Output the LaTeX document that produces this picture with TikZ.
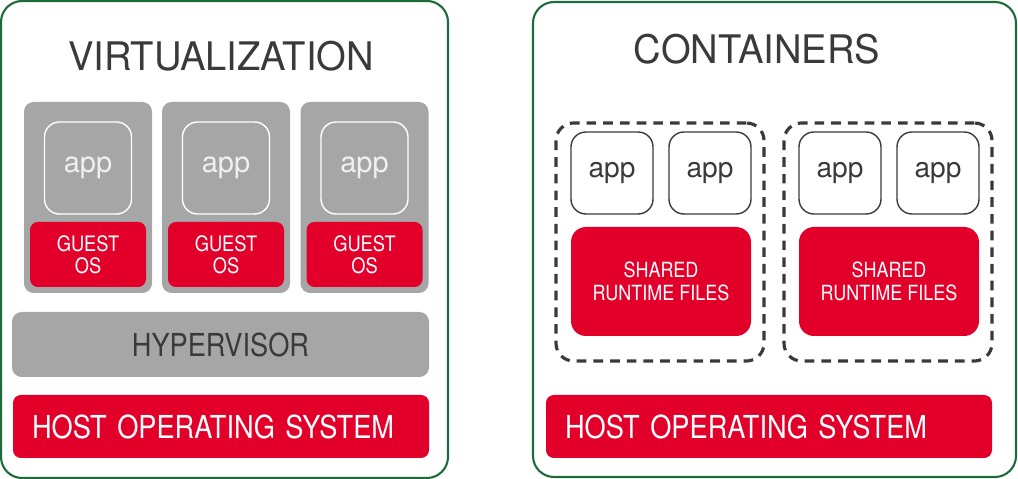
\documentclass[tikz,border=0pt]{standalone}
\usepackage{fontspec}
\setmainfont{TeX Gyre Heros}
\newfontfamily\condfont[FakeStretch=0.86]{TeX Gyre Heros}
\newfontfamily\headfont[FakeStretch=0.97]{TeX Gyre Heros}
\definecolor{hostred}{HTML}{E2002B}
\definecolor{boxgray}{HTML}{A6A6A6}
\definecolor{darktext}{HTML}{3A3A3A}
\definecolor{framegreen}{HTML}{1E6B3A}

\begin{document}
\begin{tikzpicture}[x=0.02cm, y=-0.02cm,
				px/.style 2 args = {minimum width=#1*0.02cm, minimum height=#2*0.02cm, inner sep=0pt, outer sep=0pt},
				frame/.style = {draw=framegreen, line width=1.2pt, rounded corners=12pt},
				title/.style = {text=darktext, font=\headfont\fontsize{22.4}{24}\selectfont},
				vmbox/.style = {fill=boxgray, rounded corners=5.5pt},
				vmapp/.style = {draw=white, line width=0.8pt, rounded corners=8.5pt, text=white!94!black, font=\fontsize{16.5}{18}\selectfont},
				guestbox/.style = {fill=hostred, rounded corners=4.5pt, text=white, align=center, font=\condfont\fontsize{12.1}{12.5}\selectfont},
				hyperbox/.style = {fill=boxgray, rounded corners=5.5pt, text=darktext, font=\condfont\fontsize{18}{20}\selectfont},
				hostbox/.style = {fill=hostred, rounded corners=4.5pt, text=white, align=left, font=\condfont\fontsize{18}{19}\selectfont},
				ctrbox/.style = {draw=darktext, line width=1.8pt, dash pattern=on 5.5pt off 4pt, rounded corners=10pt},
				ctrapp/.style = {draw=darktext, line width=0.8pt, rounded corners=8.5pt, text=darktext, font=\fontsize{16}{18}\selectfont},
				sharedbox/.style = {fill=hostred, rounded corners=8.5pt, text=white, align=center, font=\condfont\fontsize{11.9}{13}\selectfont}
			]
			\useasboundingbox (0,0) rectangle (1018,479);
			% virtualization
			\node[frame, px={447}{477}] (virt) at (224.5,239.5) {};
			\node[title] (virttitle) at (221,56) {VIRTUALIZATION};
			\foreach \i/\x in {1/88, 2/226, 3/364.5}{
				\node[vmbox, px={128}{191}] (vm\i) at (\x,197.5) {};
				\node[vmapp, px={87}{92}] (app\i) at (\x,168) {app};
				\node[guestbox, px={116}{65}] (guest\i) at (\x,254.5) {GUEST\\OS};
			}
			\node[hyperbox, px={417}{65}] (hyper) at (220.5,344.5) {HYPERVISOR};
			\node[hostbox, px={416}{63}, inner xsep=0.38cm, text width=7.56cm] (hostL) at (221,426.5) {HOST OPERATING SYSTEM};
			% containers
			\node[frame, px={483}{475}] (cont) at (774.5,239.5) {};
			\node[title] (conttitle) at (757,49) {CONTAINERS};
			\foreach \i/\x in {1/660, 2/888}{
				\node[ctrbox, px={208}{238}] (ctr\i) at (\x,242) {};
				\node[ctrapp, px={82}{82}] (ctrapp\i a) at (\x-48,173) {app};
				\node[ctrapp, px={82}{82}] (ctrapp\i b) at (\x+50,173) {app};
				\node[sharedbox, px={180}{109}] (shared\i) at (\x+1,281.5) {SHARED\\RUNTIME FILES};
			}
			\node[hostbox, px={446}{63}, inner xsep=0.38cm, text width=8.16cm] (hostR) at (769,426.5) {HOST OPERATING SYSTEM};
		\end{tikzpicture}
\end{document}
